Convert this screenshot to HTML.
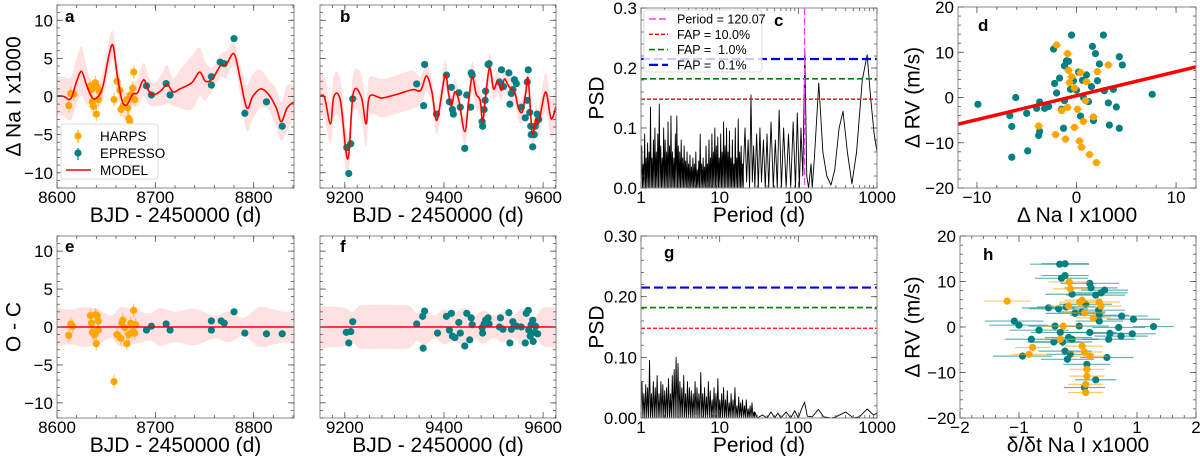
<!DOCTYPE html>
<html><head><meta charset="utf-8">
<style>
html,body{margin:0;padding:0;background:#fff;}
svg{display:block;font-family:"Liberation Sans",sans-serif;}
text{white-space:pre;}
</style></head>
<body>
<svg id="fig" width="1200" height="456" viewBox="0 0 1200 456" xmlns="http://www.w3.org/2000/svg"></svg>
<script>
// ---------- DATA ----------
const modelAx = [8600,8607,8614,8620,8625,8630,8636,8642,8647,8653,8657,8661,8666,8671,8677,8682,8688,8693,8698,8706,8712,8718,8725,8737,8745,8751,8758,8766,8772,8780,8786,8793,8799,8807,8815,8823,8828,8834,8841];
const modelAy = [0.1,0,-0.3,2,3.3,1.5,-0.2,0,1.5,5.5,6.7,3,-0.5,-1.1,0.3,0.5,2.2,0.8,0.2,0.8,1.6,0.6,1.0,1.8,3.2,2.0,2.3,4.0,4.2,5.6,2.5,-1.5,0,1.0,0.3,-1.5,-3.3,-1.5,-0.7];
const modelAerr = [2.5,2.6,2.8,3,3.2,2.5,1.5,1.5,1.8,2,1.8,2,1.8,1.6,1.5,1.8,2.2,1.8,1.5,2,2.5,1.8,2.5,3.5,3.2,2.5,1.5,1.5,1.8,1.5,2,3,3,2.5,2,2.5,2.5,3,2];
const harpsAx = [8612,8614,8617,8634,8635,8636,8637,8639,8640,8641,8642,8643,8658,8661,8664,8665,8667,8671,8672,8673,8674,8675,8677,8678,8679];
const harpsAy = [-1.2,0.4,0.3,1.4,0.9,-0.7,-1.3,1.8,-2.3,1.2,-0.4,0.7,-0.4,2.0,0.8,-1.7,-1.3,-0.4,-1.5,-2.9,-3.2,0.2,1.1,3.2,-0.4];
const espAx = [8691,8696,8711,8715,8757,8757,8766,8770,8780,8791,8813,8829];
const espAy = [1.4,0.2,1.7,0.2,2.6,1.5,4.5,4.3,7.6,-2.2,-0.7,-3.9];
const modelBx = [9148,9159,9171,9178,9191,9206,9217,9233,9243,9250,9275,9306,9337,9353,9365,9376,9386,9402,9409,9415,9422,9430,9442,9450,9457,9465,9473,9478,9484,9492,9500,9508,9516,9522,9531,9543,9550,9558,9565,9570,9578,9585,9591,9605,9616,9626];
const modelBy = [0,-0.1,-3.6,0,-0.5,-8.2,0.4,0,-3.6,0,-0.2,0.3,0.9,0.8,2.7,0.5,-3.1,2.8,0.5,-1.2,0.6,-0.5,-4.6,-0.5,2.6,0.3,-0.5,-3.3,0,3.8,1,2,0.8,2.3,1.3,0.5,-1.5,-2,0.5,2.3,-4.8,-3,-3.5,0.6,-2.9,-1.3];
const modelBerr = [2.8,2.8,2.8,2.8,2.8,2.8,2.5,3,3,2.5,2.5,2.5,2.5,1.8,2,1.5,1.8,2,1.5,1.5,1.8,1.5,2,1.5,2,2,1.5,1.5,1.5,2,1.5,1.5,1.5,1.5,1.5,1.5,1.5,1.5,1.5,1.5,1.5,2,2,2.5,2.5,2.5];
const espBx = [9204,9208,9212,9216,9345,9359,9361,9385,9405,9411,9415,9417,9419,9430,9433,9442,9446,9454,9455,9457,9477,9478,9481,9483,9484,9489,9491,9512,9516,9520,9531,9533,9536,9539,9542,9546,9556,9564,9568,9568,9570,9573,9575,9576,9579,9582,9584,9588,9591];
const espBy = [-6.7,-10.1,-6.2,-0.3,1.65,-1.2,4.2,-2.3,2.8,-0.7,1.2,-1.7,-2.3,0.5,-1.4,-6.8,0.2,-1.4,3.1,2.8,-3.3,-3.9,-1.7,-0.5,0.7,4.2,4.3,1.9,3.5,1.3,3.1,-1.0,0.4,0.9,2.2,1.7,-1.4,-2.8,-0.5,1.9,3.5,-2.1,-3.9,-5.0,-6.6,-5.0,-3.9,-2.3,-3.0];
const denseC = [0.07,0.04,0.09,0.05,0.075,0.06,0.135,0.05,0.08,0.1,0.06,0.09,0.14,0.07,0.05,0.1,0.08,0.06,0.11,0.07,0.12,0.06,0.05,0.09,0.12,0.07,0.06,0.08,0.05,0.07,0.045,0.06,0.04,0.055,0.035,0.05,0.04,0.06,0.03,0.045,0.09,0.04,0.05,0.035,0.07,0.04,0.08,0.05,0.09,0.06,0.1,0.07,0.085,0.05,0.09,0.06,0.11,0.07,0.1,0.06,0.095,0.05,0.08,0.04,0.1,0.05,0.115,0.06,0.07,0.04];
const periodC = [20,21,22,23,24,25,26,27,28,29.5,31,32.5,34,36,38,40,42,45,48,51,54,57,61,65,70,75,80,86,92,97,103,108,114,121,128,135,145,150,160,182,205,230,260,290,330,370,420,480,550,650,750,830,920,1000];
const psdC = [0.03,0.1,0.01,0.08,0,0.155,0.01,0.07,0,0.09,0,0.1,0.01,0.08,0,0.09,0,0.11,0,0.08,0,0.13,0,0.1,0,0.09,0,0.11,0,0.125,0,0.1,0.02,0.228,0.02,0,0.04,0,0.05,0.175,0.06,0.02,0.005,0.03,0.1,0.128,0.06,0.007,0.06,0.18,0.222,0.15,0.09,0.06];
const fapLevels = [0.148,0.182,0.215];
const fapLabels = ["FAP = 10.0%","FAP =  1.0%","FAP =  0.1%"];
const bestPeriod = 120.07;
const espDx = [-9.9,-6.1,-6.7,-6.5,-6.5,-5,-4.9,-3.7,-3.8,-3.7,-4,-3.2,-2.8,-2.3,-2.2,-2,-1.7,-1.5,-1.3,-1.2,-1,-0.8,-0.5,-0.6,-0.3,0,0.4,0.7,1,1.5,1.6,1.9,2.1,2.3,2.7,2.8,3.2,3.3,3.7,4.0,4.3,4.3,4.6,7.6,1.7,1.2,0.6,0.2,-1.2];
const espDy = [-1.5,0,-4,-6.4,-13.2,-3.5,-11.8,-1,-8.4,-7.5,-2.4,-2.4,-2,10.7,3.1,1,4.3,-2.6,-6.8,7,8.1,8,13.8,1.8,3.7,1.6,-4.1,0,5,2.4,11.3,9.7,3.7,7.4,13.8,1.5,-1.2,-6.1,1.8,-2.1,9,-6.8,7.2,0.7,-5.1,-0.9,3.8,5.6,-0.7];
const harpsDx = [-2,-0.9,-0.8,-0.5,-0.7,0.4,1,2.1,3.2,-3.8,-2.1,-1.1,0.3,0.5,1.3,2,-0.2,0.7,1.7,-1.5,-0.9,0.1,0.9,-0.2];
const harpsDy = [11.6,9.7,6,4.6,3.3,5.5,3.5,5.7,7.2,-6.3,-8.2,-9.2,-9.6,-11,-12.6,-14.4,-6.6,-5.3,-4.3,-2.9,-2.2,-2.6,-0.7,2.1];
const fitSlope = 0.53, fitIntercept = 0.4;
const harpsEx = [8612,8614,8616,8634,8635,8636,8638,8639,8640,8641,8642,8642,8658,8661,8665,8666,8667,8669,8671,8673,8675,8677,8678,8679,8680];
const harpsEy = [-1.1,0.4,0.1,1.5,0.5,-0.7,-1,1.6,-2.2,1.5,-0.4,0.8,-7.2,-1,-1.5,0.5,0.9,-0.1,-2.2,-1,0.5,-0.6,2.2,-0.8,0.3];
const espEx = [8691,8696,8711,8715,8757,8757,8767,8770,8780,8791,8813,8829];
const espEy = [-0.4,0.1,0.4,-0.4,0.8,-0.4,0.8,0.5,2,-0.8,-0.9,-0.9];
const bandEx = [8600,8615,8625,8640,8655,8665,8680,8695,8705,8720,8740,8760,8775,8790,8805,8820,8835,8842];
const bandEw = [2.5,2.3,2.6,2.4,1.5,2.6,2.2,1.8,2.5,2.0,2.4,1.5,2.0,1.2,2.6,2.3,2.0,2.6];
const espFx = [9203,9208,9212,9216,9345,9357,9361,9358,9387,9405,9411,9415,9417,9422,9430,9433,9442,9446,9452,9455,9457,9477,9478,9481,9484,9489,9491,9512,9514,9519,9531,9533,9536,9539,9542,9547,9556,9564,9566,9570,9571,9574,9576,9579,9580,9583,9585,9589];
const espFy = [-0.7,-2.1,-0.6,0.7,0.4,1.4,2.1,-2.8,-0.8,1.4,-0.4,1.8,-1.2,-1.4,0.6,-0.8,-2.5,1.8,-1.7,1.2,0.3,-0.1,-0.8,0.4,0.9,1.2,0.4,0,1.2,-0.3,1.9,-2.1,-0.3,0.7,0.2,0.1,0,-2.1,1.8,2.2,-0.4,-1.2,0.3,0.9,-1.9,-0.7,0.1,-0.9];
const bandFx = [9150,9200,9215,9230,9250,9300,9330,9345,9360,9380,9400,9420,9440,9460,9480,9500,9520,9540,9560,9580,9600,9625];
const bandFw = [2.8,2.5,2,2.8,2.9,2.9,2.8,1.8,2.5,1.5,2.3,1.8,2.5,1.5,2.2,1.5,2.0,1.5,2.5,1.2,2.5,2.6];
const denseG = [0.06,0.04,0.055,0.05,0.095,0.04,0.06,0.05,0.07,0.04,0.06,0.055,0.045,0.05,0.065,0.04,0.07,0.08,0.1,0.09,0.06,0.05,0.07,0.04,0.06,0.05,0.045,0.04,0.06,0.05,0.04,0.075,0.04,0.05,0.035,0.06,0.045,0.03,0.05,0.04,0.065,0.03,0.04,0.05,0.03,0.045,0.025,0.04,0.03,0.05,0.02,0.035,0.025,0.03,0.02,0.03,0.015,0.02,0.025,0.01];
const periodG = [28,30,35,40,45,50,55,60,70,80,90,100,110,120,130,150,180,210,260,300,400,500,600,750,900,1000];
const psdG = [0.01,0,0.005,0,0.01,0,0.008,0,0.01,0,0.012,0,0.015,0.026,0.003,0.002,0.014,0.002,0,0.002,0.01,0,0.002,0.015,0.005,0.008];
const espHx = [-0.31,-0.22,-0.28,-0.22,0.2,0.22,0.45,0.39,0.3,-0.1,-0.33,-0.5,-0.2,0.13,0.07,-0.05,0.35,0.36,0.36,0.74,0.94,1.28,0.69,0.54,0.52,0.73,0.92,-1.0,-1.08,-0.79,-0.66,-0.39,-0.3,-0.16,-0.1,-0.26,-0.41,-0.22,-0.13,-0.18,-0.94,0.15,0.3,0.11,0.49,0.2,0.02];
const espHy = [13.8,13.9,10.7,11.3,9.6,8.6,8.1,7.5,7,7.2,4,4.2,4.4,5,3.3,3,3.7,2.6,1.3,2.4,1.7,0.1,-0.1,-1.4,-2.7,-2,-1.5,0.4,1.3,-2.7,-0.7,0.2,-1.2,-2.3,-2.7,-3.3,-3.3,-5.3,-6,-7.1,-6.4,-8.2,-11.6,-13.3,-6.7,-1.2,0.2];
const espHxErr = [0.5,0.4,0.45,0.4,0.5,0.45,0.4,0.45,0.5,0.45,0.5,0.45,0.5,0.45,0.4,0.5,0.45,0.5,0.4,0.45,0.45,0.35,0.45,0.4,0.45,0.45,0.4,0.5,0.5,0.45,0.5,0.45,0.5,0.4,0.45,0.5,0.45,0.45,0.4,0.45,0.5,0.4,0.35,0.35,0.45,0.45,0.5];
const harpsHx = [-1.2,-0.15,-0.13,-0.16,0.03,0.07,0.36,0.39,0.26,-0.25,-0.77,-0.83,0.07,0.11,0.2,0.15,0.15,0.13,0.13,0.11,-0.3];
const harpsHy = [5.7,9.9,8.4,4.6,5.5,5.9,5.5,4.6,2,0.2,-4.5,-6,-4.2,-5.5,-6.4,-9.3,-10.8,-12.6,-14.4,3.1,-2.7];
const harpsHxErr = [0.4,0.35,0.3,0.35,0.35,0.3,0.35,0.35,0.3,0.35,0.3,0.3,0.35,0.3,0.3,0.3,0.3,0.3,0.3,0.35,0.3];

// ---------- DRAWING ----------
const NS = "http://www.w3.org/2000/svg";
const fig = document.getElementById("fig");
const TEAL = "#008080", ORANGE = "#ffa500", PINK = "#ffe1e1";
function mk(tag, attrs, parent, name, inter) {
  const e = document.createElementNS(NS, tag);
  for (const k in attrs) e.setAttribute(k, attrs[k]);
  
  
  parent.appendChild(e);
  return e;
}
function txt(parent, x, y, s, size, name, extra) {
  const t = mk("text", Object.assign({x: x, y: y, "font-size": size, fill: "#000"}, extra || {}), parent, name, false);
  t.textContent = s;
  return t;
}
let clipId = 0;
function panel(o) {
  const g = mk("g", {}, fig, "panel-" + o.letter, false);
  const W = o.x1 - o.x0, H = o.y1 - o.y0;
  const lx = v => o.xlog ? Math.log10(v) : v;
  const sx = v => o.x0 + (lx(v) - lx(o.xmin)) / (lx(o.xmax) - lx(o.xmin)) * W;
  const sy = v => o.y1 - (v - o.ymin) / (o.ymax - o.ymin) * H;
  const id = "clip" + (clipId++);
  const cp = mk("clipPath", {id: id}, g, "clip-" + o.letter, false);
  mk("rect", {x: o.x0, y: o.y0, width: W, height: H}, cp, "clip-rect", false);
  const plot = mk("g", {"clip-path": "url(#" + id + ")"}, g, "plot-area-" + o.letter, false);
  const axes = mk("g", {}, g, "axes-" + o.letter, false);
  mk("rect", {x: o.x0, y: o.y0, width: W, height: H, fill: "none", stroke: "#8a8a8a", "stroke-width": 1}, axes, "axes-frame", false);
  function tick(x1, y1, x2, y2) { mk("line", {x1: x1, y1: y1, x2: x2, y2: y2, stroke: "#555", "stroke-width": 0.8}, axes, "tick-mark", false); }
  o.xmajor.forEach(v => { const X = sx(v); tick(X, o.y1, X, o.y1 - 6); tick(X, o.y0, X, o.y0 + 6);
    txt(axes, X, o.y1 + 15, o.xfmt ? o.xfmt(v) : String(v), 17, "x-tick-label", {"text-anchor": "middle"}); });
  o.xminor.forEach(v => { const X = sx(v); tick(X, o.y1, X, o.y1 - 3); tick(X, o.y0, X, o.y0 + 3); });
  o.ymajor.forEach(v => { const Y = sy(v); tick(o.x0, Y, o.x0 + 6, Y); tick(o.x1, Y, o.x1 - 6, Y);
    if (o.ylabels) txt(axes, o.x0 - 4, Y + 6, o.yfmt ? o.yfmt(v) : String(v), 17, "y-tick-label", {"text-anchor": "end"}); });
  o.yminor.forEach(v => { const Y = sy(v); tick(o.x0, Y, o.x0 + 3, Y); tick(o.x1, Y, o.x1 - 3, Y); });
  txt(axes, (o.x0 + o.x1) / 2, o.y1 + 34, o.xlabel, 21, "x-axis-title", {"text-anchor": "middle"});
  if (o.ylabel) {
    const cy = (o.y0 + o.y1) / 2;
    txt(axes, o.ylx, cy, o.ylabel, 21, "y-axis-title", {"text-anchor": "middle", transform: "rotate(-90 " + o.ylx + " " + cy + ")", "dominant-baseline": "central"});
  }
  txt(axes, o.lx, o.ly, o.letter, 17, "panel-letter", {"font-weight": "bold"});
  return {sx, sy, plot, axes};
}
function range(a, b, s) { const r = []; for (let v = a; v <= b + 1e-9; v += s) r.push(+v.toFixed(6)); return r; }
function logMinor(a, b) { const r = []; for (let d = a; d < b; d *= 10) for (let k = 2; k <= 9; k++) r.push(d * k); return r; }
const minus = v => String(v).replace("-", "\u2212");

function smoothPath(pts) {
  let d = "M" + pts[0][0] + "," + pts[0][1];
  for (let i = 0; i < pts.length - 1; i++) {
    const p0 = pts[Math.max(0, i - 1)], p1 = pts[i], p2 = pts[i + 1], p3 = pts[Math.min(pts.length - 1, i + 2)];
    const c1x = p1[0] + (p2[0] - p0[0]) / 6, c1y = p1[1] + (p2[1] - p0[1]) / 6;
    const c2x = p2[0] - (p3[0] - p1[0]) / 6, c2y = p2[1] - (p3[1] - p1[1]) / 6;
    d += " C" + c1x + "," + c1y + " " + c2x + "," + c2y + " " + p2[0] + "," + p2[1];
  }
  return d;
}
function band(P, xs, ys, ws, name) {
  const up = xs.map((x, i) => [P.sx(x), P.sy(ys[i] + ws[i])]);
  const dn = xs.map((x, i) => [P.sx(x), P.sy(ys[i] - ws[i])]).reverse();
  const d = smoothPath(up) + " L" + smoothPath(dn).slice(1) + " Z";
  mk("path", {d: d, fill: PINK, stroke: "none"}, P.plot, name, false);
}
function curve(P, xs, ys, attrs, name) {
  const pts = xs.map((x, i) => [P.sx(x), P.sy(ys[i])]);
  return mk("path", Object.assign({d: smoothPath(pts), fill: "none"}, attrs), P.plot, name, false);
}
function line(P, xs, ys, attrs, name) {
  const pts = xs.map((x, i) => P.sx(x) + "," + P.sy(ys[i])).join(" ");
  return mk("polyline", Object.assign({points: pts, fill: "none"}, attrs), P.plot, name, false);
}
function dots(P, xs, ys, color, name, yerr, xerr, r) {
  xs.forEach((x, i) => {
    const X = P.sx(x), Y = P.sy(ys[i]);
    if (yerr) mk("line", {x1: X, x2: X, y1: P.sy(ys[i] - yerr), y2: P.sy(ys[i] + yerr), stroke: color, "stroke-width": 1.2, "stroke-opacity": 0.6}, P.plot, name + "-yerr", false);
    if (xerr) mk("line", {x1: P.sx(x - xerr[i]), x2: P.sx(x + xerr[i]), y1: Y, y2: Y, stroke: color, "stroke-width": 1.2, "stroke-opacity": 0.6}, P.plot, name + "-xerr", false);
    mk("circle", {cx: X, cy: Y, r: r || 3.6, fill: color}, P.plot, name, false);
  });
}

// Panel a
const A = panel({letter: "a", x0: 57, x1: 294, y0: 5, y1: 188, xmin: 8600, xmax: 8841, ymin: -12, ymax: 12,
  xmajor: [8600, 8700, 8800], xminor: range(8620, 8840, 20), ymajor: [-10, -5, 0, 5, 10], yminor: range(-12, 12, 1),
  ylabels: true, yfmt: minus, xlabel: "BJD - 2450000 (d)", ylabel: "\u0394 Na I x1000", ylx: 14, lx: 65, ly: 22});
band(A, modelAx, modelAy, modelAerr, "model-band-a");
dots(A, harpsAx, harpsAy, ORANGE, "harps-point", 0.9);
dots(A, espAx, espAy, TEAL, "espresso-point", 0.3);
curve(A, modelAx, modelAy, {stroke: "#f00", "stroke-width": 1.6}, "model-line-a");
(function legend() {
  const lg = mk("g", {}, A.axes, "legend-a", false);
  mk("rect", {x: 61, y: 124, width: 97, height: 55, rx: 3, fill: "#fff", "fill-opacity": 0.85, stroke: "#ddd"}, lg, "legend-box", false);
  mk("line", {x1: 78, x2: 78, y1: 130, y2: 143, stroke: ORANGE, "stroke-width": 1.2}, lg, "legend-harps-errbar", false);
  mk("circle", {cx: 78, cy: 136, r: 3.6, fill: ORANGE}, lg, "legend-harps-marker", false);
  txt(lg, 100, 141, "HARPS", 13.5, "legend-harps-label");
  mk("line", {x1: 78, x2: 78, y1: 148, y2: 160, stroke: TEAL, "stroke-width": 1.2}, lg, "legend-espresso-errbar", false);
  mk("circle", {cx: 78, cy: 153, r: 3.6, fill: TEAL}, lg, "legend-espresso-marker", false);
  txt(lg, 100, 158, "EPRESSO", 13.5, "legend-espresso-label");
  mk("line", {x1: 66, x2: 91, y1: 170, y2: 170, stroke: "#f00", "stroke-width": 1.6}, lg, "legend-model-line", false);
  txt(lg, 100, 175, "MODEL", 13.5, "legend-model-label");
})();

// Panel b
const B = panel({letter: "b", x0: 320, x1: 556, y0: 5, y1: 188, xmin: 9150, xmax: 9626, ymin: -12, ymax: 12,
  xmajor: [9200, 9400, 9600], xminor: range(9175, 9625, 25), ymajor: [-10, -5, 0, 5, 10], yminor: range(-12, 12, 1),
  ylabels: false, xlabel: "BJD - 2450000 (d)", lx: 340, ly: 22});
band(B, modelBx, modelBy, modelBerr, "model-band-b");
dots(B, espBx, espBy, TEAL, "espresso-point", 0.3);
curve(B, modelBx, modelBy, {stroke: "#f00", "stroke-width": 1.6}, "model-line-b");

function periodogram(P, dense, denseEnd, pers, psds, name) {
  const pts = [];
  const n = dense.length;
  const l1 = Math.log10(denseEnd);
  for (let i = 0; i < n; i++) {
    const pPeak = Math.pow(10, l1 * (i + 0.5) / n);
    const pLow = Math.pow(10, l1 * (i + 1) / n);
    pts.push(P.sx(pPeak) + "," + P.sy(dense[i]));
    pts.push(P.sx(pLow) + "," + P.sy(0));
  }
  pers.forEach((p, i) => pts.push(P.sx(p) + "," + P.sy(psds[i])));
  mk("polyline", {points: P.sx(1) + "," + P.sy(0) + " " + pts.join(" "), fill: "none", stroke: "#000", "stroke-width": 0.9, "stroke-linejoin": "round"}, P.plot, name, false);
}
const fapColors = ["#ff0000", "#008000", "#0000ff"];
const fapDash = ["4,2", "6,3", "9,4"];
const fapWidth = [1.3, 1.6, 2.2];
function fapLines(P, x0, x1) {
  fapLevels.forEach((v, i) => {
    mk("line", {x1: x0, x2: x1, y1: P.sy(v), y2: P.sy(v), stroke: fapColors[i], "stroke-width": fapWidth[i], "stroke-dasharray": fapDash[i]}, P.plot, "fap-line-" + i, false);
  });
}

// Panel c
const C = panel({letter: "c", x0: 641, x1: 877, y0: 8, y1: 188, xlog: true, xmin: 1, xmax: 1000, ymin: 0, ymax: 0.3,
  xmajor: [1, 10, 100, 1000], xminor: logMinor(1, 1000), ymajor: [0, 0.1, 0.2, 0.3], yminor: range(0.02, 0.3, 0.02),
  ylabels: true, yfmt: v => v.toFixed(1), xlabel: "Period (d)", ylabel: "PSD", ylx: 597, lx: 774, ly: 26});
periodogram(C, denseC, 20, periodC, psdC, "periodogram-c");
fapLines(C, 641, 877);
mk("line", {x1: C.sx(bestPeriod), x2: C.sx(bestPeriod), y1: 8, y2: 188, stroke: "#ee44ee", "stroke-width": 1.3, "stroke-dasharray": "7,3"}, C.plot, "best-period-line", false);
(function legendC() {
  const lg = mk("g", {}, C.axes, "legend-c", false);
  mk("rect", {x: 644, y: 10, width: 118, height: 62, rx: 3, fill: "#fff", "fill-opacity": 0.8, stroke: "#ddd"}, lg, "legend-box", false);
  const labels = ["Period = " + bestPeriod.toFixed(2)].concat(fapLabels);
  const cols = ["#ee44ee"].concat(fapColors);
  const dashes = ["7,3"].concat(fapDash);
  const widths = [1.5].concat(fapWidth);
  labels.forEach((s, i) => {
    const y = 19 + i * 15.3;
    mk("line", {x1: 649, x2: 668, y1: y, y2: y, stroke: cols[i], "stroke-width": widths[i], "stroke-dasharray": dashes[i]}, lg, "legend-line-" + i, false);
    txt(lg, 677, y + 4.5, s, 12.5, "legend-label-" + i);
  });
})();

// Panel d
const D = panel({letter: "d", x0: 958, x1: 1196, y0: 7, y1: 188, xmin: -11.9, xmax: 12, ymin: -20, ymax: 20,
  xmajor: [-10, 0, 10], xminor: range(-10, 12, 2), ymajor: [-20, -10, 0, 10, 20], yminor: range(-18, 18, 2),
  ylabels: true, xfmt: minus, yfmt: minus, xlabel: "\u0394 Na I x1000", ylabel: "\u0394 RV (m/s)", ylx: 913, lx: 978, ly: 31});
dots(D, espDx, espDy, TEAL, "espresso-point", 0.6, espDx.map(() => 0.2));
dots(D, harpsDx, harpsDy, ORANGE, "harps-point", 0.8, harpsDx.map(() => 0.5));
line(D, [-12, 12], [-12 * fitSlope + fitIntercept, 12 * fitSlope + fitIntercept], {stroke: "#f00", "stroke-width": 3.5}, "linear-fit-line");

// Panel e
const E = panel({letter: "e", x0: 57, x1: 294, y0: 236, y1: 418, xmin: 8600, xmax: 8841, ymin: -12, ymax: 12,
  xmajor: [8600, 8700, 8800], xminor: range(8620, 8840, 20), ymajor: [-10, -5, 0, 5, 10], yminor: range(-12, 12, 1),
  ylabels: true, yfmt: minus, xlabel: "BJD - 2450000 (d)", ylabel: "O - C", ylx: 14, lx: 65, ly: 252});
band(E, bandEx, bandEx.map(() => 0), bandEw, "residual-band-e");
dots(E, harpsEx, harpsEy, ORANGE, "harps-residual", 0.9);
dots(E, espEx, espEy, TEAL, "espresso-residual", 0.3);
line(E, [8600, 8841], [0, 0], {stroke: "#f00", "stroke-width": 1.4}, "zero-line-e");

// Panel f
const F = panel({letter: "f", x0: 320, x1: 556, y0: 236, y1: 418, xmin: 9150, xmax: 9626, ymin: -12, ymax: 12,
  xmajor: [9200, 9400, 9600], xminor: range(9175, 9625, 25), ymajor: [-10, -5, 0, 5, 10], yminor: range(-12, 12, 1),
  ylabels: false, xlabel: "BJD - 2450000 (d)", lx: 340, ly: 252});
band(F, bandFx, bandFx.map(() => 0), bandFw, "residual-band-f");
dots(F, espFx, espFy, TEAL, "espresso-residual", 0.3);
line(F, [9150, 9626], [0, 0], {stroke: "#f00", "stroke-width": 1.4}, "zero-line-f");

// Panel g
const G = panel({letter: "g", x0: 641, x1: 877, y0: 236, y1: 418, xlog: true, xmin: 1, xmax: 1000, ymin: 0, ymax: 0.3,
  xmajor: [1, 10, 100, 1000], xminor: logMinor(1, 1000), ymajor: [0, 0.1, 0.2, 0.3], yminor: range(0.02, 0.3, 0.02),
  ylabels: true, yfmt: v => v.toFixed(2), xlabel: "Period (d)", ylabel: "PSD", ylx: 597, lx: 664, ly: 258});
periodogram(G, denseG, 28, periodG, psdG, "periodogram-g");
fapLines(G, 641, 877);

// Panel h
const Hh = panel({letter: "h", x0: 960, x1: 1196, y0: 236, y1: 418, xmin: -2, xmax: 2, ymin: -20, ymax: 20,
  xmajor: [-2, -1, 0, 1, 2], xminor: range(-1.8, 1.8, 0.2), ymajor: [-20, -10, 0, 10, 20], yminor: range(-18, 18, 2),
  ylabels: true, xfmt: minus, yfmt: minus, xlabel: "\u03b4/\u03b4t Na I x1000", ylabel: "\u0394 RV (m/s)", ylx: 913, lx: 983, ly: 260});
dots(Hh, espHx, espHy, TEAL, "espresso-point", 0.6, espHxErr);
dots(Hh, harpsHx, harpsHy, ORANGE, "harps-point", 0.8, harpsHxErr);
</script>
</body></html>
